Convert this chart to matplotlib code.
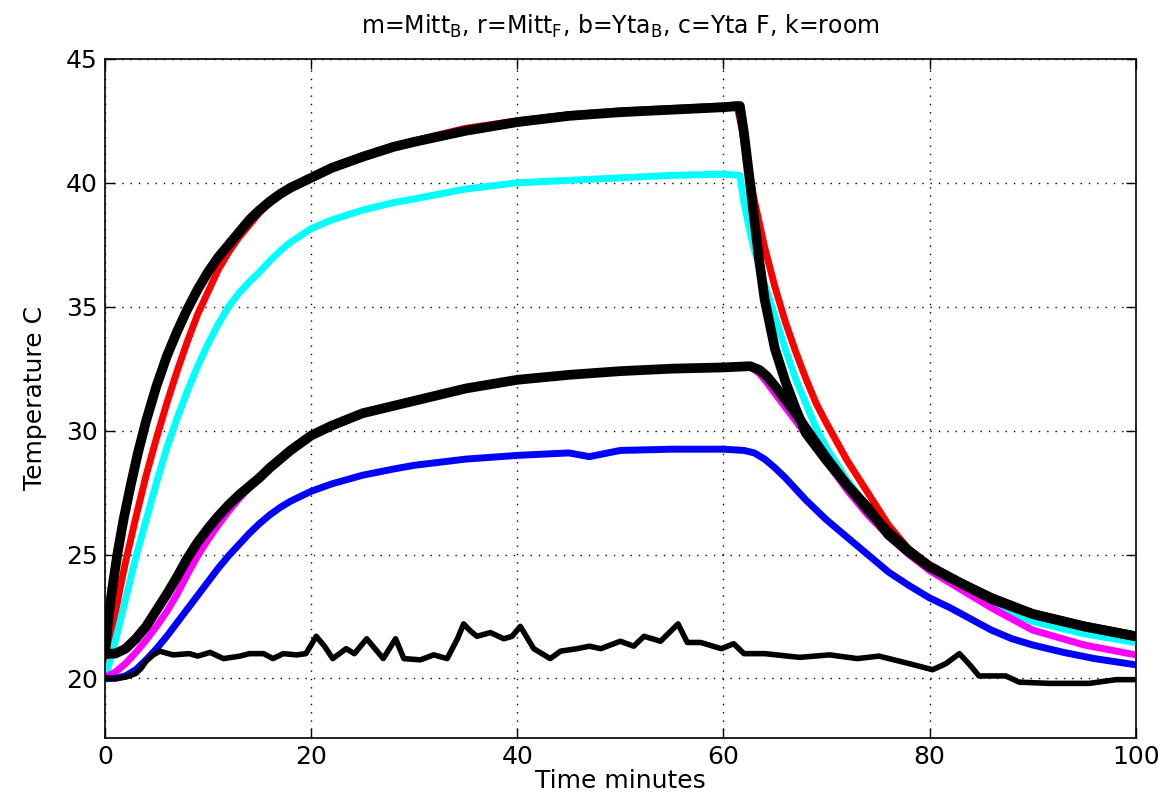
import matplotlib
matplotlib.use("Agg")
import matplotlib.pyplot as plt

plt.rcParams['font.family'] = ['DejaVu Sans']
plt.rcParams['mathtext.default'] = 'regular'

# ---- data (time in minutes, temperature in C) ----
t_red = [0, 0.5, 1, 1.5, 2, 3, 4, 5, 6, 7, 8, 9, 10, 11, 12, 13, 14, 15, 16, 17, 18, 19, 20, 22, 25, 28, 30, 35,
         40, 45, 50, 55, 60, 61.3, 61.8, 62.3, 63, 64, 65, 66, 67, 68, 69, 70, 72, 74, 76, 78, 80, 83, 86, 90, 95, 100]
red = [20.0, 21.5, 22.6, 23.7, 24.7, 26.5, 28.2, 29.7, 31.1, 32.4, 33.6, 34.7, 35.6, 36.5, 37.2, 37.8, 38.3, 38.8, 39.2,
       39.5, 39.8, 40.0, 40.25, 40.65, 41.1, 41.5, 41.7, 42.2, 42.5, 42.75, 42.9, 43.0, 43.1, 43.15, 42.2, 40.9, 39.3,
       37.4, 35.8, 34.4, 33.2, 32.1, 31.1, 30.3, 28.8, 27.5, 26.2, 25.2, 24.6, 23.9, 23.25, 22.55, 22.05, 21.7]

t_cyan = [0, 0.5, 1, 2, 3, 4, 5, 6, 7, 8, 9, 10, 11, 12, 13, 14, 15, 16, 17, 18, 20, 22, 25, 28, 30, 35, 40, 45, 50,
          55, 60, 61.6, 62, 62.5, 63, 64, 65, 66, 67, 68, 69, 70, 72, 74, 76, 78, 80, 83, 86, 90, 95, 100]
cyan = [20.1, 20.7, 21.5, 23.2, 24.9, 26.4, 27.9, 29.3, 30.5, 31.6, 32.6, 33.5, 34.3, 35.0, 35.55, 36.0, 36.4, 36.85,
        37.25, 37.6, 38.15, 38.5, 38.9, 39.2, 39.35, 39.75, 40.0, 40.1, 40.2, 40.3, 40.35, 40.3, 39.2, 38.2, 37.3,
        35.9, 34.6, 33.3, 32.1, 31.1, 30.1, 29.3, 28.0, 26.9, 25.9, 25.1, 24.45, 23.65, 23.0, 22.3, 21.8, 21.45]

t_mag = [0, 1, 2, 3, 4, 5, 6, 7, 8, 9, 10, 11, 12, 13, 14, 15, 16, 17, 18, 19, 20, 22, 25, 28, 30, 35, 40, 45, 50,
         55, 60, 62.6, 63.5, 64.2, 65, 66, 67, 68, 69, 70, 72, 74, 76, 78, 80, 83, 86, 90, 95, 100]
magenta = [20.05, 20.25, 20.6, 21.05, 21.55, 22.1, 22.7, 23.4, 24.2, 24.95, 25.6, 26.2, 26.75, 27.25, 27.7, 28.1, 28.5,
           28.85, 29.2, 29.5, 29.8, 30.2, 30.7, 31.0, 31.2, 31.7, 32.05, 32.25, 32.4, 32.5, 32.55, 32.6, 32.3, 31.95,
           31.5, 30.95, 30.4, 29.85, 29.3, 28.75, 27.6, 26.6, 25.75, 25.0, 24.35, 23.6, 22.85, 21.95, 21.35, 20.95]

t_blue = [0, 1, 2, 3, 4, 5, 6, 7, 8, 9, 10, 11, 12, 13, 14, 15, 16, 17, 18, 20, 22, 25, 28, 30, 35, 40, 45, 47, 50, 55,
          60, 62, 63, 64, 65, 66, 67, 68, 70, 72, 74, 76, 78, 80, 82, 84, 86, 88, 90, 93, 96, 100]
blue = [20.0, 20.0, 20.1, 20.35, 20.75, 21.2, 21.7, 22.25, 22.8, 23.35, 23.9, 24.45, 24.95, 25.4, 25.85, 26.25, 26.6,
        26.9, 27.15, 27.55, 27.85, 28.2, 28.45, 28.6, 28.85, 29.0, 29.1, 28.95, 29.2, 29.25, 29.25, 29.2, 29.1, 28.85,
        28.5, 28.1, 27.65, 27.2, 26.4, 25.7, 25.0, 24.3, 23.75, 23.25, 22.85, 22.4, 21.95, 21.6, 21.35, 21.05, 20.8,
        20.55]

# model fits (thick black)
t_fit_fast = [0, 0.3, 0.7, 1.2, 1.8, 2.5, 3.2, 4, 5, 6, 7, 8, 9, 10, 11, 12, 13, 14, 15, 16, 17, 18, 19, 20, 22, 25,
              28, 30, 35, 40, 45, 50, 55, 60, 61.6, 62, 62.5, 63, 63.5, 64, 65, 66, 67, 68, 70, 72, 74, 76, 78, 80,
              83, 86, 90, 95, 100]
fit_fast = [21.0, 22.3, 23.6, 25.0, 26.4, 27.8, 29.1, 30.4, 31.8, 33.0, 34.0, 34.9, 35.7, 36.4, 37.0, 37.5, 38.0, 38.5,
            38.9, 39.25, 39.55, 39.8, 40.0, 40.2, 40.6, 41.05, 41.45, 41.65, 42.1, 42.45, 42.7, 42.85, 42.95, 43.05,
            43.1, 42.0, 40.3, 38.5, 36.8, 35.3, 33.3, 32.0, 30.9, 29.9, 28.8, 27.8, 26.9, 25.8, 25.1, 24.5, 23.85,
            23.25, 22.6, 22.1, 21.7]

t_fit_slow = [0, 1, 2, 3, 4, 5, 6, 7, 8, 9, 10, 11, 12, 13, 14, 15, 16, 17, 18, 19, 20, 22, 25, 28, 30, 35, 40, 45, 50,
              55, 60, 62.6, 63.5, 64.2, 65, 66, 67, 68, 69, 70, 72, 74, 76, 78, 80, 83, 86, 90, 95, 100]
fit_slow = [21.0, 21.0, 21.2, 21.6, 22.1, 22.75, 23.4, 24.1, 24.85, 25.5, 26.05, 26.55, 27.0, 27.4, 27.75, 28.1, 28.5,
            28.85, 29.2, 29.5, 29.8, 30.2, 30.7, 31.0, 31.2, 31.7, 32.05, 32.25, 32.4, 32.5, 32.55, 32.6, 32.45, 32.2,
            31.8, 31.25, 30.7, 30.1, 29.5, 28.9, 27.8, 26.8, 25.9, 25.15, 24.5, 23.85, 23.2, 22.6, 22.1, 21.7]

t_room = [0, 1, 2, 3, 3.5, 4, 4.7, 5.3, 6.6, 8.2, 9, 10.2, 11.5, 13.1, 14, 15.4, 16.3, 17.3, 18.6, 19.5,
          20.5, 21.3, 22.1, 23.4, 24.2, 25.4, 26.2, 27.0, 28.2, 29.0, 30.6, 31.9, 33.2, 34.2, 34.8, 35.5,
          36.1, 37.4, 38.7, 39.5, 40.3, 41.6, 43.2, 44.2, 45.8, 47, 48.1, 50.0, 51.3, 52.3, 53.9, 55.6,
          56.5, 57.8, 59.8, 61, 62, 64, 67.4, 70.3, 73, 75.1, 78, 80.3, 81.6, 82.9, 83.9, 84.8, 87.4,
          88.7, 91.6, 95.5, 98.1, 100]
room = [20.0, 20.0, 20.05, 20.2, 20.4, 20.7, 20.95, 21.1, 20.95, 21.0, 20.9, 21.05, 20.8, 20.9, 21.0, 21.0, 20.8, 21.0,
        20.95, 21.0, 21.7, 21.3, 20.8, 21.2, 21.0, 21.6, 21.2, 20.8, 21.6, 20.8, 20.75, 20.95, 20.8, 21.6, 22.2, 21.9,
        21.7, 21.85, 21.6, 21.7, 22.1, 21.2, 20.8, 21.1, 21.2, 21.3, 21.2, 21.5, 21.3, 21.7, 21.5, 22.2,
        21.45, 21.45, 21.2, 21.4, 21.0, 21.0, 20.85, 20.95, 20.8, 20.9, 20.6, 20.35, 20.6, 21.0, 20.55, 20.1, 20.1,
        19.85, 19.8, 19.8, 19.95, 19.95]

x_ticks = [0, 20, 40, 60, 80, 100]
y_ticks = [20, 25, 30, 35, 40, 45]

fig = plt.figure(figsize=(11.66, 7.96), dpi=100)
ax = fig.add_axes([0.090, 0.073, 0.884, 0.853])

ax.plot(t_red, red, color='#ff0000', lw=5)
ax.plot(t_cyan, cyan, color='#00ffff', lw=5)
ax.plot(t_mag, magenta, color='#ff00ff', lw=5)
ax.plot(t_blue, blue, color='#0000ff', lw=5)
ax.plot(t_room, room, color='black', lw=4)
ax.plot(t_fit_slow, fit_slow, color='black', lw=7, solid_joinstyle='round')
ax.plot(t_fit_fast, fit_fast, color='black', lw=7, solid_joinstyle='round')

ax.set_xlim(0, 100)
ax.set_ylim(17.6, 45)
ax.set_xticks(x_ticks)
ax.set_yticks(y_ticks)
ax.grid(True, color='black', linestyle=(0, (1, 5)), linewidth=1.0)
ax.tick_params(direction='in', length=7, width=1, top=True, right=True, labelsize=18, pad=5)
for s in ax.spines.values():
    s.set_linewidth(1.2)

ax.set_xlabel('Time minutes', fontsize=18, labelpad=0)
ax.set_ylabel('Temperature C', fontsize=18, labelpad=14)
ax.set_title(r'm=Mitt$_B$, r=Mitt$_F$, b=Yta$_B$, c=Yta F, k=room', fontsize=17, pad=18)

fig.savefig('out.png', dpi=100)
